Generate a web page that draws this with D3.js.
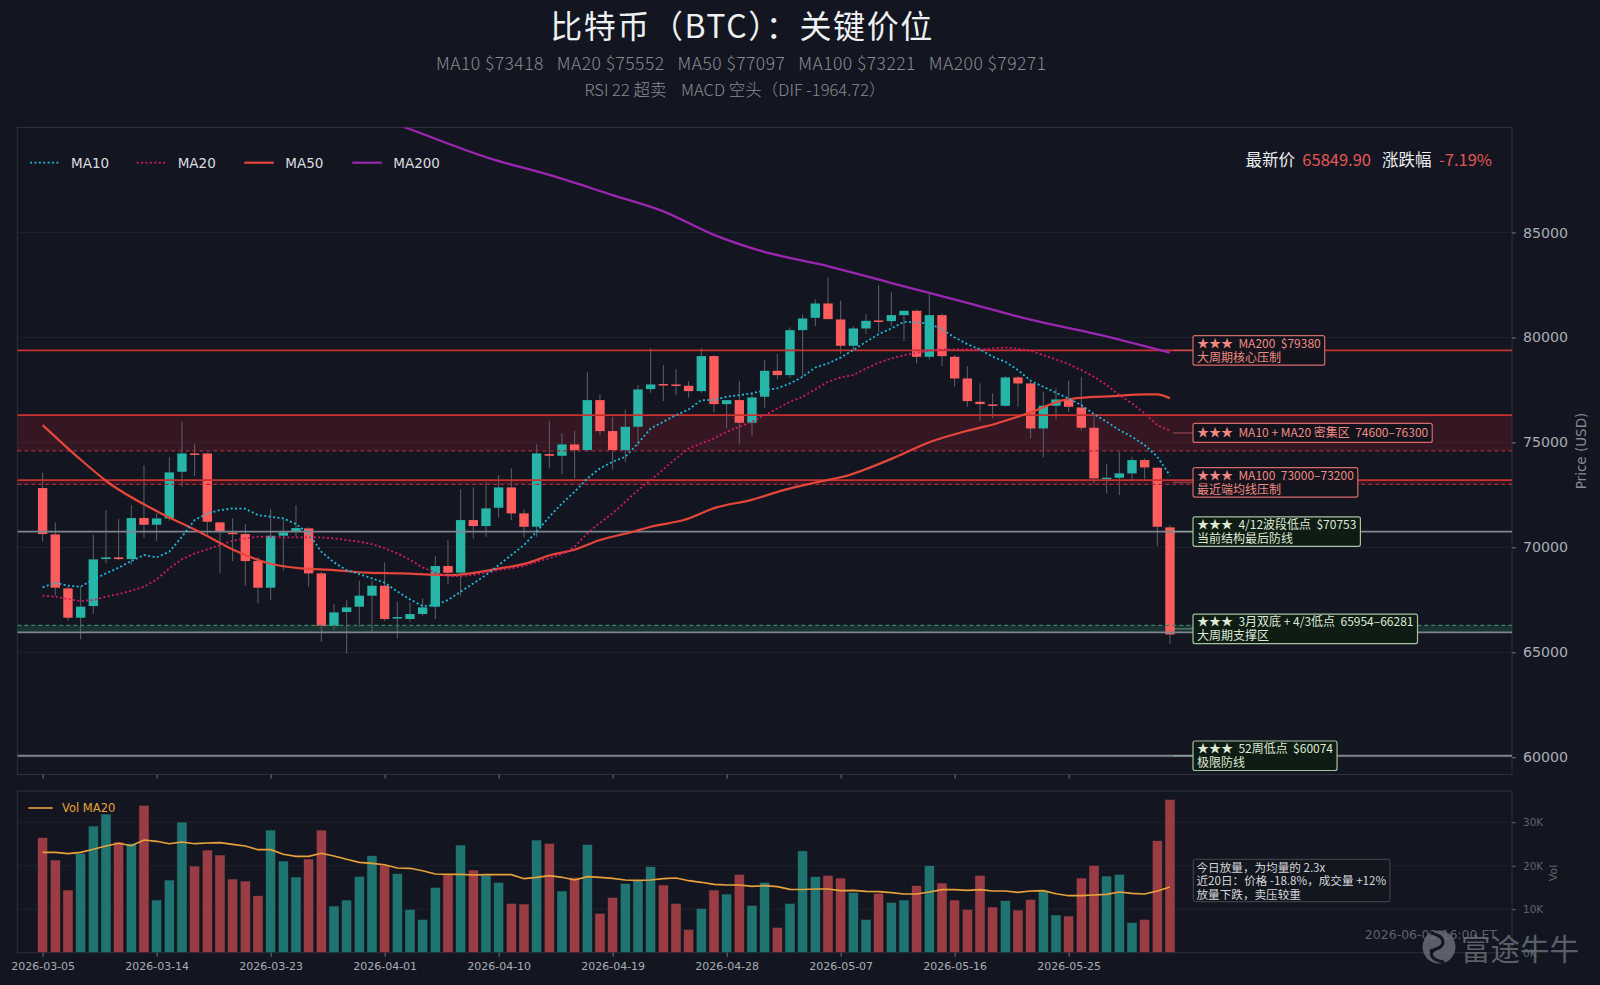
<!DOCTYPE html>
<html>
<head>
<meta charset="utf-8">
<script src="https://cdnjs.cloudflare.com/ajax/libs/d3/7.8.5/d3.min.js"></script>
<style>
  html, body { margin: 0; padding: 0; background: #131620; }
  svg { display: block; }
  text { white-space: pre; }
</style>
</head>
<body>
<svg id="chart" width="1600" height="985"></svg>
<script>
// ---- data ----
var startDate = '2026-03-05';
var tickLabels = ['2026-03-05', '2026-03-14', '2026-03-23', '2026-04-01', '2026-04-10',
                  '2026-04-19', '2026-04-28', '2026-05-07', '2026-05-16', '2026-05-25'];

var opens = [72824, 70617, 68046, 66649, 67204, 69443, 69522, 69443, 71395, 71078,
             71379, 73601, 74474, 74474, 71189, 70700, 70633, 69347, 68078, 70554,
             70776, 70903, 68760, 66252, 66919, 67173, 67697, 68173, 66620, 66586,
             66824, 67173, 69110, 68792, 71300, 71014, 71887, 72855, 71617, 70982,
             74443, 74363, 74903, 74633, 77014, 75538, 74633, 75744, 77538, 77780,
             77760, 77697, 77443, 79110, 76824, 77014, 75935, 77173, 78411, 78205,
             80347, 80935, 81617, 80855, 79602, 80427, 80808, 80776, 81062, 81268,
             79078, 81062, 79078, 78046, 76935, 76808, 76745, 78094, 77808, 75665,
             76745, 77046, 76665, 75697, 73253, 73316, 73522, 74157, 73792, 70951];
var highs = [73554, 71189, 68100, 68125, 70586, 71776, 71347, 72014, 73919, 71617,
             74316, 75982, 74919, 74500, 71200, 71379, 71109, 69522, 71824, 71347,
             72014, 70950, 68839, 67300, 67490, 68411, 68411, 69284, 67411, 67364,
             67570, 69586, 70348, 72760, 72855, 73125, 73443, 73760, 71808, 74903,
             76030, 75427, 75554, 78332, 77284, 76220, 76570, 77728, 79506, 78681,
             78490, 77919, 79506, 79157, 77014, 77919, 77411, 78919, 79205, 80474,
             81094, 81808, 82855, 81744, 80538, 81110, 82490, 82141, 81300, 81332,
             82094, 81141, 79157, 78633, 77808, 77332, 78157, 78157, 77887, 77411,
             77570, 77935, 78125, 76221, 73967, 74554, 74316, 74237, 73800, 71062];
var lows = [70268, 67697, 66506, 65617, 66824, 69237, 69395, 69173, 70458, 70300,
            71268, 72887, 73395, 70506, 68760, 69347, 68173, 67332, 67490, 68887,
            70506, 68125, 65506, 66062, 64950, 66220, 65982, 66490, 65665, 66458,
            66745, 66586, 68252, 67697, 70427, 70506, 71411, 71300, 70474, 70506,
            73760, 73490, 73284, 74554, 75348, 73713, 74078, 74824, 77364, 76967,
            77252, 77125, 77364, 76427, 75665, 74919, 75300, 76649, 78000, 78078,
            78125, 80538, 80871, 79205, 79395, 80157, 80221, 80538, 79840, 78760,
            78951, 78633, 77649, 76697, 76030, 76141, 76697, 76697, 75189, 74284,
            76094, 76459, 75586, 73046, 72570, 72491, 73205, 73205, 70062, 65395];
var closes = [70633, 68078, 66649, 67173, 69427, 69522, 69443, 71395, 71078, 71379,
              73570, 74474, 74420, 71220, 70776, 70665, 69347, 68078, 70554, 70712,
              70919, 68760, 66252, 66903, 67141, 67697, 68173, 66586, 66680, 66824,
              67141, 69110, 68792, 71300, 71014, 71855, 72855, 71617, 70982, 74474,
              74363, 74903, 74633, 77014, 75538, 74633, 75744, 77522, 77760, 77740,
              77697, 77443, 79110, 76824, 77014, 75935, 77141, 78411, 78205, 80347,
              80903, 81617, 80871, 79602, 80427, 80792, 80745, 81062, 81268, 79078,
              81062, 79110, 78046, 76967, 76824, 76745, 78094, 77808, 75665, 76745,
              77046, 76697, 75697, 73284, 73316, 73522, 74157, 73808, 70983, 65849.9];

var volumes = [26463, 21326, 14425, 22860, 29147, 31907, 25466, 25160, 33901, 12125,
               16725, 30067, 19945, 23626, 22476, 16955, 16495, 13121, 28227, 21096,
               17415, 21556, 28227, 10744, 12125, 17568, 22323, 20175, 18200, 9977,
               7677, 15038, 17875, 24776, 19025, 17875, 16188, 11357, 11204, 25926,
               25160, 14194, 17338, 24930, 9057, 12737, 15958, 16572, 19792, 15575,
               11357, 5376, 10208, 14425, 13505, 18029, 10897, 16188, 5837, 11357,
               23430, 17492, 17798, 17185, 13888, 7677, 13658, 11587, 12125, 15422,
               20022, 16035, 12125, 9977, 17798, 10514, 11971, 9823, 12278, 14118,
               8674, 8443, 17185, 20099, 17645, 18029, 6986, 7677, 25773, 35282];
var volMA20 = [23089, 23089, 22783, 23089, 23779, 24546, 25160, 24623, 25926, 25620,
               25083, 25466, 25083, 25236, 25313, 24930, 24546, 23702, 23702, 22629,
               22170, 22170, 22860, 22247, 21480, 20789, 20559, 20252, 19485, 19409,
               18872, 18105, 18029, 18029, 17875, 17952, 17952, 17952, 17032, 17338,
               17722, 17338, 16725, 17492, 17338, 17108, 16725, 16648, 16725, 17032,
               17185, 16572, 16188, 15728, 15575, 15575, 15268, 15422, 15191, 14578,
               14540, 14655, 14655, 14271, 14348, 14118, 14041, 13811, 13505, 13505,
               13965, 14501, 14501, 14348, 14501, 14195, 14195, 13888, 14195, 14271,
               13581, 13121, 13121, 13275, 13428, 13965, 13658, 13505, 14195, 15115];

var ma10 = [68093, 68315, 68173, 68125, 68474, 68760, 69030, 69347, 69633, 69522,
            69792, 70506, 71300, 71617, 71776, 71855, 71839, 71538, 71458, 71379,
            71109, 70665, 69792, 69284, 68919, 68728, 68522, 68315, 67900, 67520,
            67205, 67252, 67490, 67887, 68284, 68681, 69157, 69633, 70110, 70744,
            71459, 72094, 72649, 73284, 73760, 74078, 74316, 74951, 75665, 75982,
            76300, 76570, 77014, 77014, 77173, 77252, 77332, 77490, 77570, 77808,
            78125, 78570, 78760, 79040, 79395, 79792, 80157, 80427, 80745, 80713,
            80665, 80379, 80000, 79681, 79427, 79078, 78840, 78443, 77935, 77649,
            77364, 77094, 76776, 76348, 75982, 75586, 75268, 74871, 74316, 73418];
var ma20 = [67697, 67649, 67538, 67443, 67490, 67649, 67776, 67935, 68125, 68474,
            68998, 69427, 69712, 69903, 70110, 70316, 70427, 70506, 70506, 70474,
            70474, 70474, 70474, 70427, 70348, 70268, 70157, 69951, 69712, 69410,
            69046, 68792, 68633, 68633, 68681, 68792, 68919, 69000, 69110, 69316,
            69474, 69681, 70030, 70665, 71173, 71617, 72173, 72728, 73205, 73713,
            74236, 74713, 74951, 75189, 75506, 75744, 75982, 76300, 76617, 76935,
            77173, 77522, 77887, 78100, 78205, 78522, 78792, 78998, 79157, 79268,
            79364, 79427, 79427, 79427, 79427, 79475, 79522, 79459, 79364, 79157,
            78951, 78729, 78443, 78125, 77729, 77252, 76856, 76379, 75824, 75552];
// sparse readings: [day index, value]
var ma50 = [[0, 75824], [3.1, 74125], [5.1, 73125], [9.1, 71697], [12.5, 70697], [15.1, 69871],
            [17.7, 69268], [20.4, 68998], [23, 68919], [25.6, 68792], [28.2, 68760], [32.2, 68681],
            [36.1, 68998], [38.2, 69236], [40.1, 69633], [41.9, 69871], [44, 70348], [46.6, 70744],
            [48, 70983], [50.6, 71300], [53.2, 71903], [55.9, 72252], [58.5, 72728], [61.1, 73100],
            [63.7, 73450], [64.8, 73681], [67.4, 74316], [70.1, 75030], [72.7, 75506], [75.3, 75903],
            [77.9, 76411], [80.6, 77014], [81.9, 77125], [84.5, 77205], [87.1, 77284], [88, 77284], [89, 77097]];
var ma200 = [[27.5, 90250], [28.7, 89986], [35.3, 88529], [40.2, 87705], [45, 86781], [49, 86005],
             [53, 84886], [56.5, 84157], [62.2, 83364], [67.4, 82527], [72.7, 81697], [77.9, 80856],
             [83.2, 80157], [89, 79271]];

var priceTicks = [60000, 65000, 70000, 75000, 80000, 85000];
var volTicks = [0, 10000, 20000, 30000];

var levelValues = [79380, 76300, 74600, 73200, 73000, 70753, 66281, 65954, 60074];
var levelKinds  = ['res', 'res', 'resDash', 'res', 'resDash', 'sup', 'supDash', 'sup', 'sup'];
var zoneBounds = [[74600, 76300], [73000, 73200], [65954, 66281]];
var zoneKinds  = ['res', 'res', 'sup'];

var noteAnchors = [[79380, 79380], [74600, 76300], [73000, 73200], [70753, 70753], [65954, 66281], [60074, 60074]];
var noteKinds = ['res', 'res', 'res', 'sup', 'sup', 'sup'];
var noteLines = [
  ['★★★  MA200  $79380', '大周期核心压制'],
  ['★★★  MA10 + MA20 密集区  74600–76300'],
  ['★★★  MA100  73000–73200', '最近端均线压制'],
  ['★★★  4/12波段低点  $70753', '当前结构最后防线'],
  ['★★★  3月双底 + 4/3低点  65954–66281', '大周期支撑区'],
  ['★★★  52周低点  $60074', '极限防线']
];

var titleText = '比特币（BTC）：关键价位';
var subText1 = 'MA10 $73418   MA20 $75552   MA50 $77097   MA100 $73221   MA200 $79271';
var subText2 = 'RSI 22 超卖    MACD 空头（DIF -1964.72）';
var lastPrice = '65849.90';
var changePct = '-7.19%';
var volNote = ['今日放量，为均量的 2.3x', '近20日：价格 -18.8%，成交量 +12%', '放量下跌，卖压较重'];
var stampText = '2026-06-02 16:00 ET';

// ---- setup ----
var CJK = '"Noto Sans CJK SC", "Noto Sans", sans-serif';
var MPL = '"DejaVu Sans", "Noto Sans CJK SC", sans-serif';
var UP = '#26b5a6', DOWN = '#ff5d5d';
var BG = '#131620';

var P = {l: 17.3, r: 1512, t: 127.5, b: 774.5};
var V = {l: 17.3, r: 1512, t: 791, b: 952.7};

var parseDate = d3.timeParse('%Y-%m-%d');
var t0 = parseDate(startDate);
var tickIdx = tickLabels.map(function (s) { return d3.timeDay.count(t0, parseDate(s)); });

var candles = opens.map(function (o, i) {
  return {i: i, o: o, h: highs[i], l: lows[i], c: closes[i], v: volumes[i], up: closes[i] >= o};
});

var x = d3.scaleLinear().domain([-2, 116]).range([P.l, P.r]);
var y = d3.scaleLinear().domain([59180, 90000]).range([P.b, P.t]);
var yv = d3.scaleLinear().domain([0, 37200]).range([V.b, V.t]);

var svg = d3.select('#chart');
svg.append('rect').attr('width', 1600).attr('height', 985).attr('fill', BG);

var defs = svg.append('defs');
defs.append('clipPath').attr('id', 'pclip').append('rect')
  .attr('x', P.l).attr('y', P.t).attr('width', P.r - P.l).attr('height', P.b - P.t);
defs.append('clipPath').attr('id', 'vclip').append('rect')
  .attr('x', V.l).attr('y', V.t).attr('width', V.r - V.l).attr('height', V.b - V.t);

// ---- titles ----
svg.append('text').attr('x', 742).attr('y', 38).attr('text-anchor', 'middle')
  .attr('font-family', CJK).attr('font-size', 32).attr('letter-spacing', 1.6)
  .attr('fill', '#eef0f3').text(titleText);
svg.append('text').attr('x', 741).attr('y', 69.5).attr('text-anchor', 'middle')
  .attr('font-family', CJK).attr('font-size', 17.5).attr('font-weight', 300)
  .attr('textLength', 610).attr('lengthAdjust', 'spacing')
  .attr('fill', '#878b94').text(subText1);
svg.append('text').attr('x', 735).attr('y', 95.5).attr('text-anchor', 'middle')
  .attr('font-family', CJK).attr('font-size', 16.5).attr('font-weight', 300)
  .attr('textLength', 301).attr('lengthAdjust', 'spacing')
  .attr('fill', '#878b94').text(subText2);

// ---- price panel ----
svg.append('rect').attr('x', P.l).attr('y', P.t).attr('width', P.r - P.l).attr('height', P.b - P.t)
  .attr('fill', BG).attr('stroke', '#2c303a');

var pg = svg.append('g').attr('clip-path', 'url(#pclip)');

pg.selectAll('.grid').data(priceTicks).enter().append('line')
  .attr('x1', P.l).attr('x2', P.r).attr('y1', y).attr('y2', y)
  .attr('stroke', '#1f232d').attr('stroke-width', 1);

pg.selectAll('.zone').data(zoneBounds).enter().append('rect')
  .attr('x', P.l).attr('width', P.r - P.l)
  .attr('y', function (d) { return y(d[1]); })
  .attr('height', function (d) { return y(d[0]) - y(d[1]); })
  .attr('fill', function (d, i) { return zoneKinds[i] === 'res' ? 'rgba(150,28,50,0.26)' : 'rgba(38,120,92,0.30)'; });

// candles
pg.selectAll('.wick').data(candles).enter().append('line')
  .attr('x1', function (d) { return x(d.i); }).attr('x2', function (d) { return x(d.i); })
  .attr('y1', function (d) { return y(d.h); }).attr('y2', function (d) { return y(d.l); })
  .attr('stroke', '#5c6069').attr('stroke-width', 1);
var bw = (x(1) - x(0)) * 0.74;
pg.selectAll('.body').data(candles).enter().append('rect')
  .attr('x', function (d) { return x(d.i) - bw / 2; }).attr('width', bw)
  .attr('y', function (d) { return y(Math.max(d.o, d.c)); })
  .attr('height', function (d) { return Math.max(1.5, Math.abs(y(d.o) - y(d.c))); })
  .attr('fill', function (d) { return d.up ? UP : DOWN; });

// level lines
var levelStyle = {
  res: {stroke: '#c9302f', width: 1.7, dash: null},
  resDash: {stroke: '#a8283a', width: 1.3, dash: '4,3'},
  sup: {stroke: '#7e858d', width: 1.8, dash: null},
  supDash: {stroke: '#3b7f66', width: 1.3, dash: '4,3'}
};
pg.selectAll('.lvl').data(levelValues).enter().append('line')
  .attr('x1', P.l).attr('x2', P.r).attr('y1', y).attr('y2', y)
  .attr('stroke', function (d, i) { return levelStyle[levelKinds[i]].stroke; })
  .attr('stroke-width', function (d, i) { return levelStyle[levelKinds[i]].width; })
  .attr('stroke-dasharray', function (d, i) { return levelStyle[levelKinds[i]].dash; });

// moving averages
var lineIdx = d3.line().x(function (d, i) { return x(i); }).y(function (d) { return y(d); });
var linePts = d3.line().x(function (d) { return x(d[0]); }).y(function (d) { return y(d[1]); }).curve(d3.curveMonotoneX);
pg.append('path').attr('d', linePts(ma200)).attr('fill', 'none').attr('stroke', '#9b27b0').attr('stroke-width', 2.3);
pg.append('path').attr('d', linePts(ma50)).attr('fill', 'none').attr('stroke', '#e5463a').attr('stroke-width', 2.2);
pg.append('path').attr('d', lineIdx(ma20)).attr('fill', 'none').attr('stroke', '#d21a62')
  .attr('stroke-width', 1.8).attr('stroke-dasharray', '2,2.4');
pg.append('path').attr('d', lineIdx(ma10)).attr('fill', 'none').attr('stroke', '#1cbad8')
  .attr('stroke-width', 1.8).attr('stroke-dasharray', '2,2.4');

// legend
var legendItems = [
  {label: 'MA10', color: '#1cbad8', dash: '2,2.4', x0: 30},
  {label: 'MA20', color: '#d21a62', dash: '2,2.4', x0: 136.7},
  {label: 'MA50', color: '#e5463a', dash: null, x0: 244.3},
  {label: 'MA200', color: '#9b27b0', dash: null, x0: 352.3}
];
var lg = svg.append('g');
legendItems.forEach(function (it) {
  lg.append('line').attr('x1', it.x0).attr('x2', it.x0 + 29.5).attr('y1', 162.7).attr('y2', 162.7)
    .attr('stroke', it.color).attr('stroke-width', it.dash ? 1.8 : 2.2).attr('stroke-dasharray', it.dash);
  lg.append('text').attr('x', it.x0 + 41).attr('y', 167.5).attr('font-family', MPL).attr('font-size', 13.5)
    .attr('fill', '#dcdde0').text(it.label);
});

// latest price info
var info = svg.append('text').attr('x', 1492).attr('y', 166).attr('text-anchor', 'end')
  .attr('font-family', CJK).attr('font-size', 16.5);
info.append('tspan').attr('fill', '#eceef1').text('最新价 ');
info.append('tspan').attr('fill', '#e25555').text(' ' + lastPrice + '  ');
info.append('tspan').attr('fill', '#eceef1').text(' 涨跌幅 ');
info.append('tspan').attr('fill', '#e25555').text(' ' + changePct);

// price axis
var pax = svg.append('g').attr('transform', 'translate(' + P.r + ',0)')
  .call(d3.axisRight(y).tickValues(priceTicks).tickSize(4).tickPadding(7).tickFormat(d3.format('d')));
pax.select('.domain').remove();
pax.selectAll('line').attr('stroke', '#737780');
pax.selectAll('text').attr('font-family', MPL).attr('font-size', 14.2).attr('fill', '#a9adb5');
svg.append('text').attr('transform', 'translate(1586,451) rotate(-90)').attr('text-anchor', 'middle')
  .attr('font-family', MPL).attr('font-size', 13.5).attr('fill', '#868a92').text('Price (USD)');

var pxax = svg.append('g').attr('transform', 'translate(0,' + P.b + ')')
  .call(d3.axisBottom(x).tickValues(tickIdx).tickSize(4).tickFormat(''));
pxax.select('.domain').remove();
pxax.selectAll('line').attr('stroke', '#737780');

// annotation boxes
var noteStyle = {
  res: {stroke: '#d8696a', fill: 'rgba(17,19,29,0.94)', text: '#f28a82'},
  sup: {stroke: '#a4c2a2', fill: '#0f1c13', text: '#dde9d6'}
};
var boxX = 1193;
noteLines.forEach(function (lines, k) {
  var st = noteStyle[noteKinds[k]];
  var cy = y((noteAnchors[k][0] + noteAnchors[k][1]) / 2);
  var h = lines.length === 1 ? 19 : 29.5;
  var top = cy - h / 2;
  var g = svg.append('g');
  g.append('line').attr('x1', 1173).attr('x2', boxX).attr('y1', cy).attr('y2', cy)
    .attr('stroke', st.stroke).attr('stroke-opacity', 0.55).attr('stroke-width', 1.2);
  var rect = g.append('rect').attr('x', boxX).attr('y', top).attr('height', h).attr('rx', 2)
    .attr('fill', st.fill).attr('stroke', st.stroke).attr('stroke-width', 1.2);
  var maxW = 0;
  lines.forEach(function (ln, j) {
    var t = g.append('text').attr('x', boxX + 4).attr('y', top + (lines.length === 1 ? 13.6 : 12 + j * 14.3))
      .attr('font-family', CJK).attr('font-size', 12).attr('fill', st.text).text(ln);
    maxW = Math.max(maxW, t.node().getComputedTextLength());
  });
  rect.attr('width', maxW + 8);
});

// ---- volume panel ----
svg.append('rect').attr('x', V.l).attr('y', V.t).attr('width', V.r - V.l).attr('height', V.b - V.t)
  .attr('fill', BG).attr('stroke', '#2c303a');
var vg = svg.append('g').attr('clip-path', 'url(#vclip)');
vg.selectAll('.vgrid').data(volTicks.slice(1)).enter().append('line')
  .attr('x1', V.l).attr('x2', V.r).attr('y1', yv).attr('y2', yv).attr('stroke', '#1f232d');
var vbw = (x(1) - x(0)) * 0.8;
vg.selectAll('.vbar').data(candles).enter().append('rect')
  .attr('x', function (d) { return x(d.i) - vbw / 2; }).attr('width', vbw)
  .attr('y', function (d) { return yv(d.v); })
  .attr('height', function (d) { return yv(0) - yv(d.v); })
  .attr('fill', function (d) { return d.up ? '#1f7370' : '#9a3c44'; })
  .attr('stroke', '#161a22').attr('stroke-width', 0.6);
vg.append('path').attr('d', d3.line().x(function (d, i) { return x(i); }).y(function (d) { return yv(d); })(volMA20))
  .attr('fill', 'none').attr('stroke', '#e9a23b').attr('stroke-width', 1.6);

svg.append('line').attr('x1', 28.3).attr('x2', 52.7).attr('y1', 808).attr('y2', 808)
  .attr('stroke', '#e9a23b').attr('stroke-width', 1.6);
svg.append('text').attr('x', 62).attr('y', 812).attr('font-family', MPL).attr('font-size', 11.5)
  .attr('fill', '#e9a23b').text('Vol MA20');

var vax = svg.append('g').attr('transform', 'translate(' + V.r + ',0)')
  .call(d3.axisRight(yv).tickValues(volTicks).tickSize(4).tickPadding(7)
    .tickFormat(function (d) { return (d / 1000) + 'K'; }));
vax.select('.domain').remove();
vax.selectAll('line').attr('stroke', '#5d616a');
vax.selectAll('text').attr('font-family', MPL).attr('font-size', 10.5).attr('fill', '#5f636c');
svg.append('text').attr('transform', 'translate(1557,873) rotate(-90)').attr('text-anchor', 'middle')
  .attr('font-family', MPL).attr('font-size', 11).attr('fill', '#5f636c').text('Vol');

var vxax = svg.append('g').attr('transform', 'translate(0,' + V.b + ')')
  .call(d3.axisBottom(x).tickValues(tickIdx).tickSize(4).tickPadding(6)
    .tickFormat(function (d, i) { return tickLabels[i]; }));
vxax.select('.domain').remove();
vxax.selectAll('line').attr('stroke', '#737780');
vxax.selectAll('text').attr('font-family', MPL).attr('font-size', 11).attr('fill', '#a9adb5');

// volume note
var vn = svg.append('g');
var vnRect = vn.append('rect').attr('x', 1193.3).attr('y', 859.3).attr('height', 42.4).attr('rx', 2)
  .attr('fill', 'rgba(19,22,31,0.85)').attr('stroke', '#454952').attr('stroke-width', 1);
var vnW = 0;
volNote.forEach(function (ln, j) {
  var t = vn.append('text').attr('x', 1196.5).attr('y', 871.5 + j * 13.8).attr('font-family', CJK)
    .attr('font-size', 11.6).attr('fill', '#d6d7da').text(ln);
  vnW = Math.max(vnW, t.node().getComputedTextLength());
});
vnRect.attr('width', vnW + 7);

// timestamp + watermark (overlapping, as in the source)
svg.append('text').attr('x', 1497).attr('y', 938.5).attr('text-anchor', 'end').attr('font-family', MPL)
  .attr('font-size', 12.5).attr('fill', '#5c626d').text(stampText);
var wm = svg.append('g').attr('opacity', 0.8);
wm.append('circle').attr('cx', 1439).attr('cy', 947).attr('r', 16.5).attr('fill', '#6b717b');
wm.append('path').attr('d', 'M1431,933 C1446,936 1446,946 1436,949 C1428,952 1430,960 1444,962')
  .attr('fill', 'none').attr('stroke', BG).attr('stroke-width', 3.2);
wm.append('circle').attr('cx', 1432).attr('cy', 951).attr('r', 2.3).attr('fill', BG);
wm.append('text').attr('x', 1461).attr('y', 960).attr('font-family', CJK).attr('font-size', 29.5)
  .attr('fill', '#6b717b').text('富途牛牛');
</script>
</body>
</html>
